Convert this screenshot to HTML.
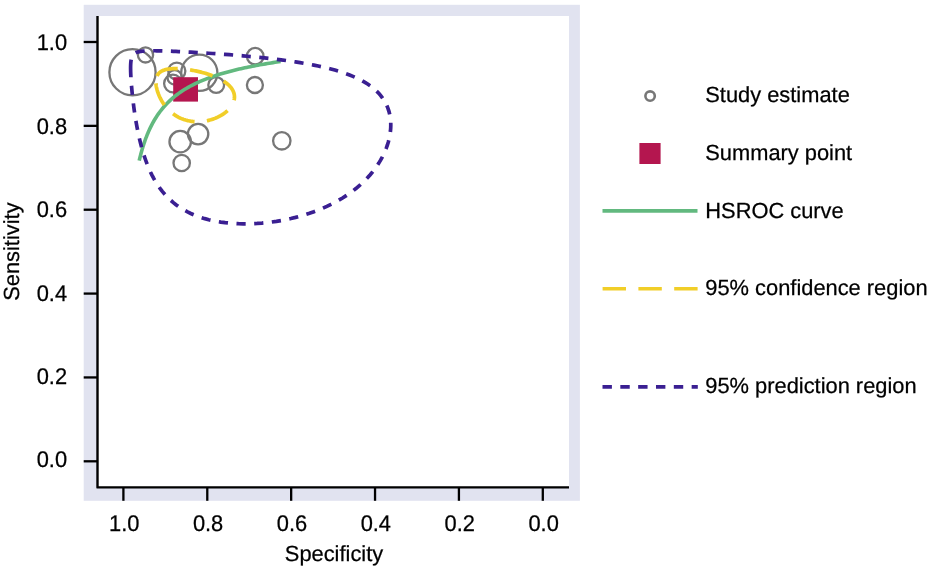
<!DOCTYPE html>
<html lang="en"><head><meta charset="utf-8"><title>HSROC plot</title>
<style>
html,body{margin:0;padding:0;background:#fff;}
body{width:931px;height:572px;overflow:hidden;}
svg{display:block;}
svg text{font-family:"Liberation Sans",Arial,Helvetica,sans-serif;font-size:21.85px;fill:#000;stroke:#000;stroke-width:0.25px;text-rendering:geometricPrecision;}
</style></head><body>
<svg width="931" height="572" viewBox="0 0 931 572">
<rect x="83.7" y="4.8" width="496.2" height="496" fill="#E1E3F0"/>
<rect x="97.5" y="16" width="471.5" height="471.4" fill="#fff"/>
<path d="M97.5,16 V487.4 H569" fill="none" stroke="#000" stroke-width="2.4" stroke-linejoin="round"/>
<path d="M83.7,461.30 H97.5" stroke="#000" stroke-width="2.3"/>
<path d="M542.80,487.4 V500.8" stroke="#000" stroke-width="2.3"/>
<text transform="translate(67.10,467.35) translate(-30.38,0) scale(1,1.04)">0.0</text>
<text transform="translate(543.60,531.40) translate(-15.19,0) scale(1,1.04)">0.0</text>
<path d="M83.7,377.44 H97.5" stroke="#000" stroke-width="2.3"/>
<path d="M458.92,487.4 V500.8" stroke="#000" stroke-width="2.3"/>
<text transform="translate(67.10,383.95) translate(-30.38,0) scale(1,1.04)">0.2</text>
<text transform="translate(459.72,531.40) translate(-15.19,0) scale(1,1.04)">0.2</text>
<path d="M83.7,293.58 H97.5" stroke="#000" stroke-width="2.3"/>
<path d="M375.04,487.4 V500.8" stroke="#000" stroke-width="2.3"/>
<text transform="translate(67.10,300.55) translate(-30.38,0) scale(1,1.04)">0.4</text>
<text transform="translate(375.84,531.40) translate(-15.19,0) scale(1,1.04)">0.4</text>
<path d="M83.7,209.72 H97.5" stroke="#000" stroke-width="2.3"/>
<path d="M291.16,487.4 V500.8" stroke="#000" stroke-width="2.3"/>
<text transform="translate(67.10,217.15) translate(-30.38,0) scale(1,1.04)">0.6</text>
<text transform="translate(291.96,531.40) translate(-15.19,0) scale(1,1.04)">0.6</text>
<path d="M83.7,125.86 H97.5" stroke="#000" stroke-width="2.3"/>
<path d="M207.28,487.4 V500.8" stroke="#000" stroke-width="2.3"/>
<text transform="translate(67.10,133.75) translate(-30.38,0) scale(1,1.04)">0.8</text>
<text transform="translate(208.08,531.40) translate(-15.19,0) scale(1,1.04)">0.8</text>
<path d="M83.7,42.00 H97.5" stroke="#000" stroke-width="2.3"/>
<path d="M123.40,487.4 V500.8" stroke="#000" stroke-width="2.3"/>
<text transform="translate(67.10,50.35) translate(-30.38,0) scale(1,1.04)">1.0</text>
<text transform="translate(124.20,531.40) translate(-15.19,0) scale(1,1.04)">1.0</text>
<text transform="translate(334.00,561.20) translate(-49.17,0) scale(1,1)">Specificity</text>
<text transform="translate(19.30,251.60) rotate(-90) translate(-49.17,0) scale(1,1)">Sensitivity</text>
<circle cx="132.5" cy="72.2" r="23.10" fill="none" stroke="#777777" stroke-width="2.3"/>
<circle cx="145.5" cy="54.9" r="7.60" fill="none" stroke="#777777" stroke-width="2.3"/>
<circle cx="176.8" cy="71.1" r="8.55" fill="none" stroke="#777777" stroke-width="2.3"/>
<circle cx="172.9" cy="83.5" r="8.80" fill="none" stroke="#777777" stroke-width="2.3"/>
<circle cx="174.7" cy="77.4" r="7.20" fill="none" stroke="#777777" stroke-width="2.3"/>
<circle cx="199.3" cy="72.8" r="18.10" fill="none" stroke="#777777" stroke-width="2.3"/>
<circle cx="216.2" cy="85" r="7.90" fill="none" stroke="#777777" stroke-width="2.3"/>
<circle cx="255.2" cy="56.2" r="8.30" fill="none" stroke="#777777" stroke-width="2.3"/>
<circle cx="254.9" cy="85" r="8.00" fill="none" stroke="#777777" stroke-width="2.3"/>
<circle cx="180.2" cy="141.7" r="10.75" fill="none" stroke="#777777" stroke-width="2.3"/>
<circle cx="198.1" cy="134.1" r="10.20" fill="none" stroke="#777777" stroke-width="2.3"/>
<circle cx="181.7" cy="163" r="8.20" fill="none" stroke="#777777" stroke-width="2.3"/>
<circle cx="281.8" cy="140.8" r="8.70" fill="none" stroke="#777777" stroke-width="2.3"/>
<rect x="173.2" y="77.2" width="24.8" height="24.4" fill="#B4164F"/>
<path d="M139.20,160.69 L139.48,159.51 L139.75,158.36 L140.03,157.24 L140.31,156.14 L140.58,155.07 L140.86,154.02 L141.14,152.99 L141.42,151.98 L141.69,150.99 L141.97,150.02 L142.25,149.07 L142.52,148.14 L142.80,147.23 L143.08,146.33 L143.35,145.45 L143.63,144.59 L143.91,143.75 L144.18,142.91 L144.46,142.10 L144.74,141.30 L145.02,140.51 L145.29,139.74 L145.57,138.98 L145.85,138.23 L146.12,137.50 L146.40,136.77 L146.68,136.06 L146.95,135.36 L147.23,134.68 L147.51,134.00 L147.78,133.34 L148.06,132.68 L148.34,132.04 L148.62,131.40 L148.89,130.78 L149.17,130.16 L149.45,129.56 L149.72,128.96 L150.00,128.37 L150.50,127.33 L152.39,123.64 L154.27,120.27 L156.16,117.19 L158.04,114.36 L159.93,111.74 L161.81,109.31 L163.70,107.05 L165.58,104.94 L167.47,102.97 L169.36,101.12 L171.24,99.38 L173.13,97.74 L175.01,96.19 L176.90,94.73 L178.78,93.34 L180.67,92.02 L182.55,90.76 L184.44,89.56 L186.32,88.42 L188.21,87.33 L190.10,86.29 L191.98,85.29 L193.87,84.33 L195.75,83.41 L197.64,82.53 L199.52,81.68 L201.41,80.86 L203.29,80.08 L205.18,79.32 L207.07,78.58 L208.95,77.87 L210.84,77.19 L212.72,76.53 L214.61,75.89 L216.49,75.27 L218.38,74.66 L220.26,74.08 L222.15,73.52 L224.03,72.97 L225.92,72.43 L227.81,71.91 L229.69,71.41 L231.58,70.92 L233.46,70.44 L235.35,69.97 L237.23,69.52 L239.12,69.08 L241.00,68.65 L242.89,68.22 L244.78,67.81 L246.66,67.41 L248.55,67.02 L250.43,66.64 L252.32,66.26 L254.20,65.90 L256.09,65.54 L257.97,65.19 L259.86,64.85 L261.74,64.51 L263.63,64.18 L265.52,63.86 L267.40,63.55 L269.29,63.24 L271.17,62.93 L273.06,62.64 L274.94,62.34 L276.83,62.06 L278.71,61.78 L280.60,61.50" fill="none" stroke="#62B97F" stroke-width="3.6"/>
<path d="M155.95,83.45 L155.99,84.03 L156.05,84.61 L156.12,85.20 L156.20,85.80 L156.30,86.42 L156.41,87.04 L156.54,87.67 L156.68,88.31 L156.83,88.95 L157.00,89.61 L157.18,90.27 L157.38,90.94 L157.59,91.61 L157.82,92.30 L158.06,92.98 L158.31,93.68 L158.59,94.38 L158.87,95.08 L159.17,95.79 L159.49,96.50 L159.82,97.21 L160.17,97.92 L160.53,98.64 L160.91,99.36 L161.30,100.08 L161.71,100.80 L162.14,101.52 L162.59,102.23 L163.04,102.95 L163.52,103.66 L164.01,104.36 L164.52,105.07 L165.05,105.76 L165.59,106.46 L166.15,107.14 L166.73,107.82 L167.32,108.49 L167.94,109.15 L168.57,109.81 L169.21,110.45 L169.87,111.08 L170.55,111.70 L171.25,112.30 L171.97,112.90 L172.70,113.48 L173.45,114.04 L174.21,114.59 L175.00,115.13 L175.80,115.64 L176.61,116.14 L177.44,116.62 L178.29,117.09 L179.15,117.53 L180.03,117.96 L180.92,118.36 L181.83,118.74 L182.76,119.10 L183.69,119.44 L184.64,119.76 L185.60,120.06 L186.58,120.33 L187.57,120.58 L188.57,120.80 L189.57,121.00 L190.59,121.18 L191.62,121.33 L192.66,121.46 L193.70,121.56 L194.76,121.64 L195.81,121.69 L196.88,121.71 L197.95,121.72 L199.02,121.69 L200.09,121.64 L201.17,121.57 L202.25,121.47 L203.32,121.34 L204.40,121.19 L205.47,121.02 L206.54,120.82 L207.61,120.60 L208.67,120.35 L209.72,120.08 L210.77,119.79 L211.80,119.47 L212.83,119.13 L213.84,118.77 L214.85,118.39 L215.84,117.99 L216.81,117.57 L217.77,117.13 L218.71,116.66 L219.64,116.18 L220.54,115.69 L221.43,115.17 L222.29,114.64 L223.13,114.09 L223.95,113.53 L224.74,112.95 L225.51,112.36 L226.25,111.75 L226.97,111.13 L227.66,110.50 L228.31,109.86 L228.94,109.21 L229.54,108.55 L230.11,107.88 L230.64,107.20 L231.14,106.52 L231.61,105.82 L232.05,105.13 L232.45,104.42 L232.81,103.72 L233.14,103.01 L233.44,102.29 L233.70,101.58 L233.92,100.86 L234.10,100.14 L234.25,99.42 L234.36,98.70 L234.43,97.99 L234.47,97.27 L234.47,96.56 L234.43,95.85 L234.35,95.14 L234.24,94.44 L234.08,93.74 L233.90,93.04 L233.67,92.35 L233.41,91.67 L233.11,90.99 L232.78,90.32 L232.41,89.66 L232.00,89.01 L231.56,88.36 L231.09,87.72 L230.59,87.09 L230.05,86.47 L229.48,85.86 L228.88,85.25 L228.24,84.66 L227.58,84.08 L226.89,83.50 L226.17,82.94 L225.43,82.38 L224.66,81.84 L223.86,81.31 L223.04,80.79 L222.20,80.28 L221.33,79.78 L220.44,79.29 L219.54,78.81 L218.61,78.35 L217.67,77.89 L216.71,77.45 L215.73,77.02 L214.74,76.60 L213.74,76.19 L212.72,75.79 L211.69,75.40 L210.65,75.03 L209.61,74.66 L208.55,74.31 L207.49,73.97 L206.43,73.64 L205.36,73.32 L204.28,73.01 L203.21,72.71 L202.13,72.43 L201.05,72.15 L199.98,71.89 L198.90,71.63 L197.83,71.39 L196.76,71.16 L195.70,70.93 L194.64,70.72 L193.59,70.52 L192.55,70.33 L191.51,70.15 L190.48,69.98 L189.47,69.82 L188.46,69.67 L187.46,69.53 L186.47,69.40 L185.50,69.29 L184.54,69.18 L183.59,69.08 L182.66,68.99 L181.73,68.91 L180.83,68.84 L179.94,68.78 L179.06,68.73 L178.20,68.69 L177.35,68.66 L176.52,68.64 L175.71,68.63 L174.91,68.63 L174.13,68.64 L173.37,68.66 L172.62,68.69 L171.89,68.73 L171.18,68.78 L170.48,68.84 L169.80,68.90 L169.14,68.98 L168.50,69.07 L167.87,69.17 L167.26,69.28 L166.67,69.39 L166.09,69.52 L165.53,69.66 L164.99,69.81 L164.47,69.97 L163.96,70.14 L163.47,70.32 L162.99,70.50 L162.54,70.70 L162.10,70.92 L161.67,71.14 L161.26,71.37 L160.87,71.61 L160.49,71.86 L160.13,72.13 L159.78,72.40 L159.45,72.69 L159.14,72.98 L158.84,73.29 L158.56,73.61 L158.29,73.94 L158.03,74.28 L157.79,74.63 L157.57,75.00 L157.36,75.37 L157.16,75.76 L156.98,76.15 L156.82,76.56 L156.66,76.98 L156.52,77.41 L156.40,77.85 L156.29,78.31 L156.19,78.77 L156.11,79.25 L156.04,79.74 L155.99,80.24 L155.95,80.74 L155.92,81.27 L155.91,81.80 L155.91,82.34 L155.92,82.89Z" fill="none" stroke="#F1CE28" stroke-width="3.7" stroke-dasharray="23.3 12.4"/>
<path d="M130.60,68.07 L130.61,69.12 L130.63,70.22 L130.65,71.36 L130.69,72.56 L130.74,73.82 L130.79,75.13 L130.86,76.50 L130.94,77.92 L131.03,79.41 L131.14,80.95 L131.25,82.56 L131.38,84.23 L131.52,85.97 L131.68,87.77 L131.85,89.64 L132.03,91.57 L132.23,93.57 L132.45,95.63 L132.68,97.76 L132.93,99.96 L133.20,102.22 L133.49,104.54 L133.80,106.93 L134.13,109.38 L134.49,111.89 L134.87,114.45 L135.28,117.07 L135.71,119.74 L136.17,122.46 L136.67,125.23 L137.20,128.04 L137.76,130.89 L138.35,133.77 L138.99,136.68 L139.67,139.62 L140.39,142.58 L141.15,145.55 L141.97,148.54 L142.83,151.54 L143.75,154.53 L144.73,157.52 L145.77,160.50 L146.87,163.46 L148.03,166.41 L149.27,169.33 L150.58,172.21 L151.97,175.06 L153.44,177.87 L154.99,180.63 L156.63,183.34 L158.37,186.00 L160.20,188.59 L162.12,191.11 L164.15,193.57 L166.29,195.95 L168.54,198.25 L170.90,200.47 L173.38,202.61 L175.97,204.66 L178.69,206.61 L181.52,208.47 L184.49,210.24 L187.57,211.90 L190.78,213.47 L194.12,214.92 L197.59,216.28 L201.17,217.52 L204.88,218.66 L208.71,219.68 L212.65,220.60 L216.70,221.40 L220.86,222.09 L225.13,222.66 L229.48,223.12 L233.93,223.46 L238.45,223.68 L243.05,223.79 L247.71,223.79 L252.42,223.66 L257.18,223.42 L261.97,223.07 L266.78,222.60 L271.61,222.01 L276.44,221.31 L281.27,220.50 L286.07,219.57 L290.85,218.53 L295.58,217.38 L300.27,216.12 L304.90,214.76 L309.46,213.29 L313.94,211.71 L318.34,210.04 L322.65,208.26 L326.85,206.39 L330.95,204.42 L334.94,202.36 L338.81,200.22 L342.56,197.99 L346.18,195.67 L349.67,193.28 L353.02,190.82 L356.24,188.29 L359.32,185.69 L362.26,183.03 L365.06,180.31 L367.71,177.55 L370.22,174.73 L372.59,171.88 L374.81,168.99 L376.88,166.07 L378.81,163.12 L380.59,160.15 L382.23,157.17 L383.72,154.18 L385.07,151.19 L386.28,148.19 L387.34,145.21 L388.26,142.23 L389.03,139.27 L389.67,136.34 L390.16,133.43 L390.51,130.55 L390.72,127.71 L390.79,124.90 L390.72,122.14 L390.50,119.43 L390.15,116.76 L389.65,114.15 L389.01,111.59 L388.23,109.09 L387.31,106.65 L386.24,104.27 L385.03,101.95 L383.68,99.70 L382.18,97.51 L380.54,95.39 L378.75,93.33 L376.82,91.34 L374.74,89.41 L372.52,87.56 L370.15,85.76 L367.64,84.03 L364.98,82.37 L362.18,80.77 L359.23,79.23 L356.15,77.75 L352.93,76.33 L349.57,74.97 L346.07,73.67 L342.45,72.42 L338.70,71.23 L334.82,70.09 L330.83,69.00 L326.73,67.95 L322.52,66.96 L318.21,66.01 L313.81,65.11 L309.32,64.25 L304.76,63.42 L300.13,62.64 L295.44,61.90 L290.71,61.19 L285.93,60.52 L281.12,59.88 L276.30,59.28 L271.47,58.70 L266.64,58.15 L261.83,57.64 L257.03,57.14 L252.28,56.68 L247.57,56.24 L242.91,55.82 L238.31,55.43 L233.79,55.05 L229.35,54.70 L225.00,54.37 L220.74,54.06 L216.58,53.76 L212.53,53.49 L208.59,53.23 L204.77,52.98 L201.06,52.75 L197.48,52.54 L194.02,52.34 L190.69,52.15 L187.48,51.98 L184.40,51.82 L181.44,51.67 L178.60,51.54 L175.89,51.42 L173.30,51.30 L170.83,51.20 L168.47,51.11 L166.23,51.04 L164.09,50.97 L162.06,50.91 L160.14,50.86 L158.31,50.82 L156.58,50.79 L154.94,50.77 L153.39,50.76 L151.93,50.76 L150.54,50.78 L149.23,50.80 L148.00,50.82 L146.83,50.86 L145.74,50.91 L144.70,50.97 L143.73,51.04 L142.81,51.12 L141.94,51.22 L141.13,51.32 L140.37,51.43 L139.65,51.56 L138.97,51.69 L138.34,51.84 L137.74,52.00 L137.18,52.17 L136.65,52.36 L136.16,52.56 L135.70,52.78 L135.27,53.01 L134.86,53.26 L134.48,53.52 L134.12,53.80 L133.79,54.09 L133.48,54.41 L133.19,54.74 L132.92,55.10 L132.67,55.47 L132.44,55.87 L132.23,56.29 L132.03,56.73 L131.84,57.20 L131.67,57.69 L131.52,58.22 L131.38,58.77 L131.25,59.34 L131.13,59.95 L131.03,60.60 L130.94,61.27 L130.86,61.98 L130.79,62.73 L130.73,63.52 L130.69,64.34 L130.65,65.21 L130.62,66.12 L130.61,67.07Z" fill="none" stroke="#3A1F92" stroke-width="3.7" stroke-dasharray="9.2 8.52"/>
<circle cx="650.1" cy="96.1" r="4.7" fill="none" stroke="#777777" stroke-width="2.6"/>
<rect x="639.4" y="143" width="21.2" height="21" fill="#B4164F"/>
<path d="M602.5,210.9 H697.5" stroke="#62B97F" stroke-width="3.6"/>
<path d="M602.6,288.7 H697.7" stroke="#F1CE28" stroke-width="3.6" stroke-dasharray="23.4 12.4"/>
<path d="M602.5,386.9 H697.8" stroke="#3A1F92" stroke-width="3.7" stroke-dasharray="9.4 8.43"/>
<text transform="translate(705.30,102.40) translate(0.00,0) scale(1,1)">Study estimate</text>
<text transform="translate(705.30,160.00) translate(0.00,0) scale(1,1)">Summary point</text>
<text transform="translate(705.30,217.90) translate(0.00,0) scale(1,1)">HSROC curve</text>
<text transform="translate(705.30,294.90) translate(0.00,0) scale(1,1)">95% confidence region</text>
<text transform="translate(705.30,393.25) translate(0.00,0) scale(1,1)">95% prediction region</text>
</svg>
</body></html>
